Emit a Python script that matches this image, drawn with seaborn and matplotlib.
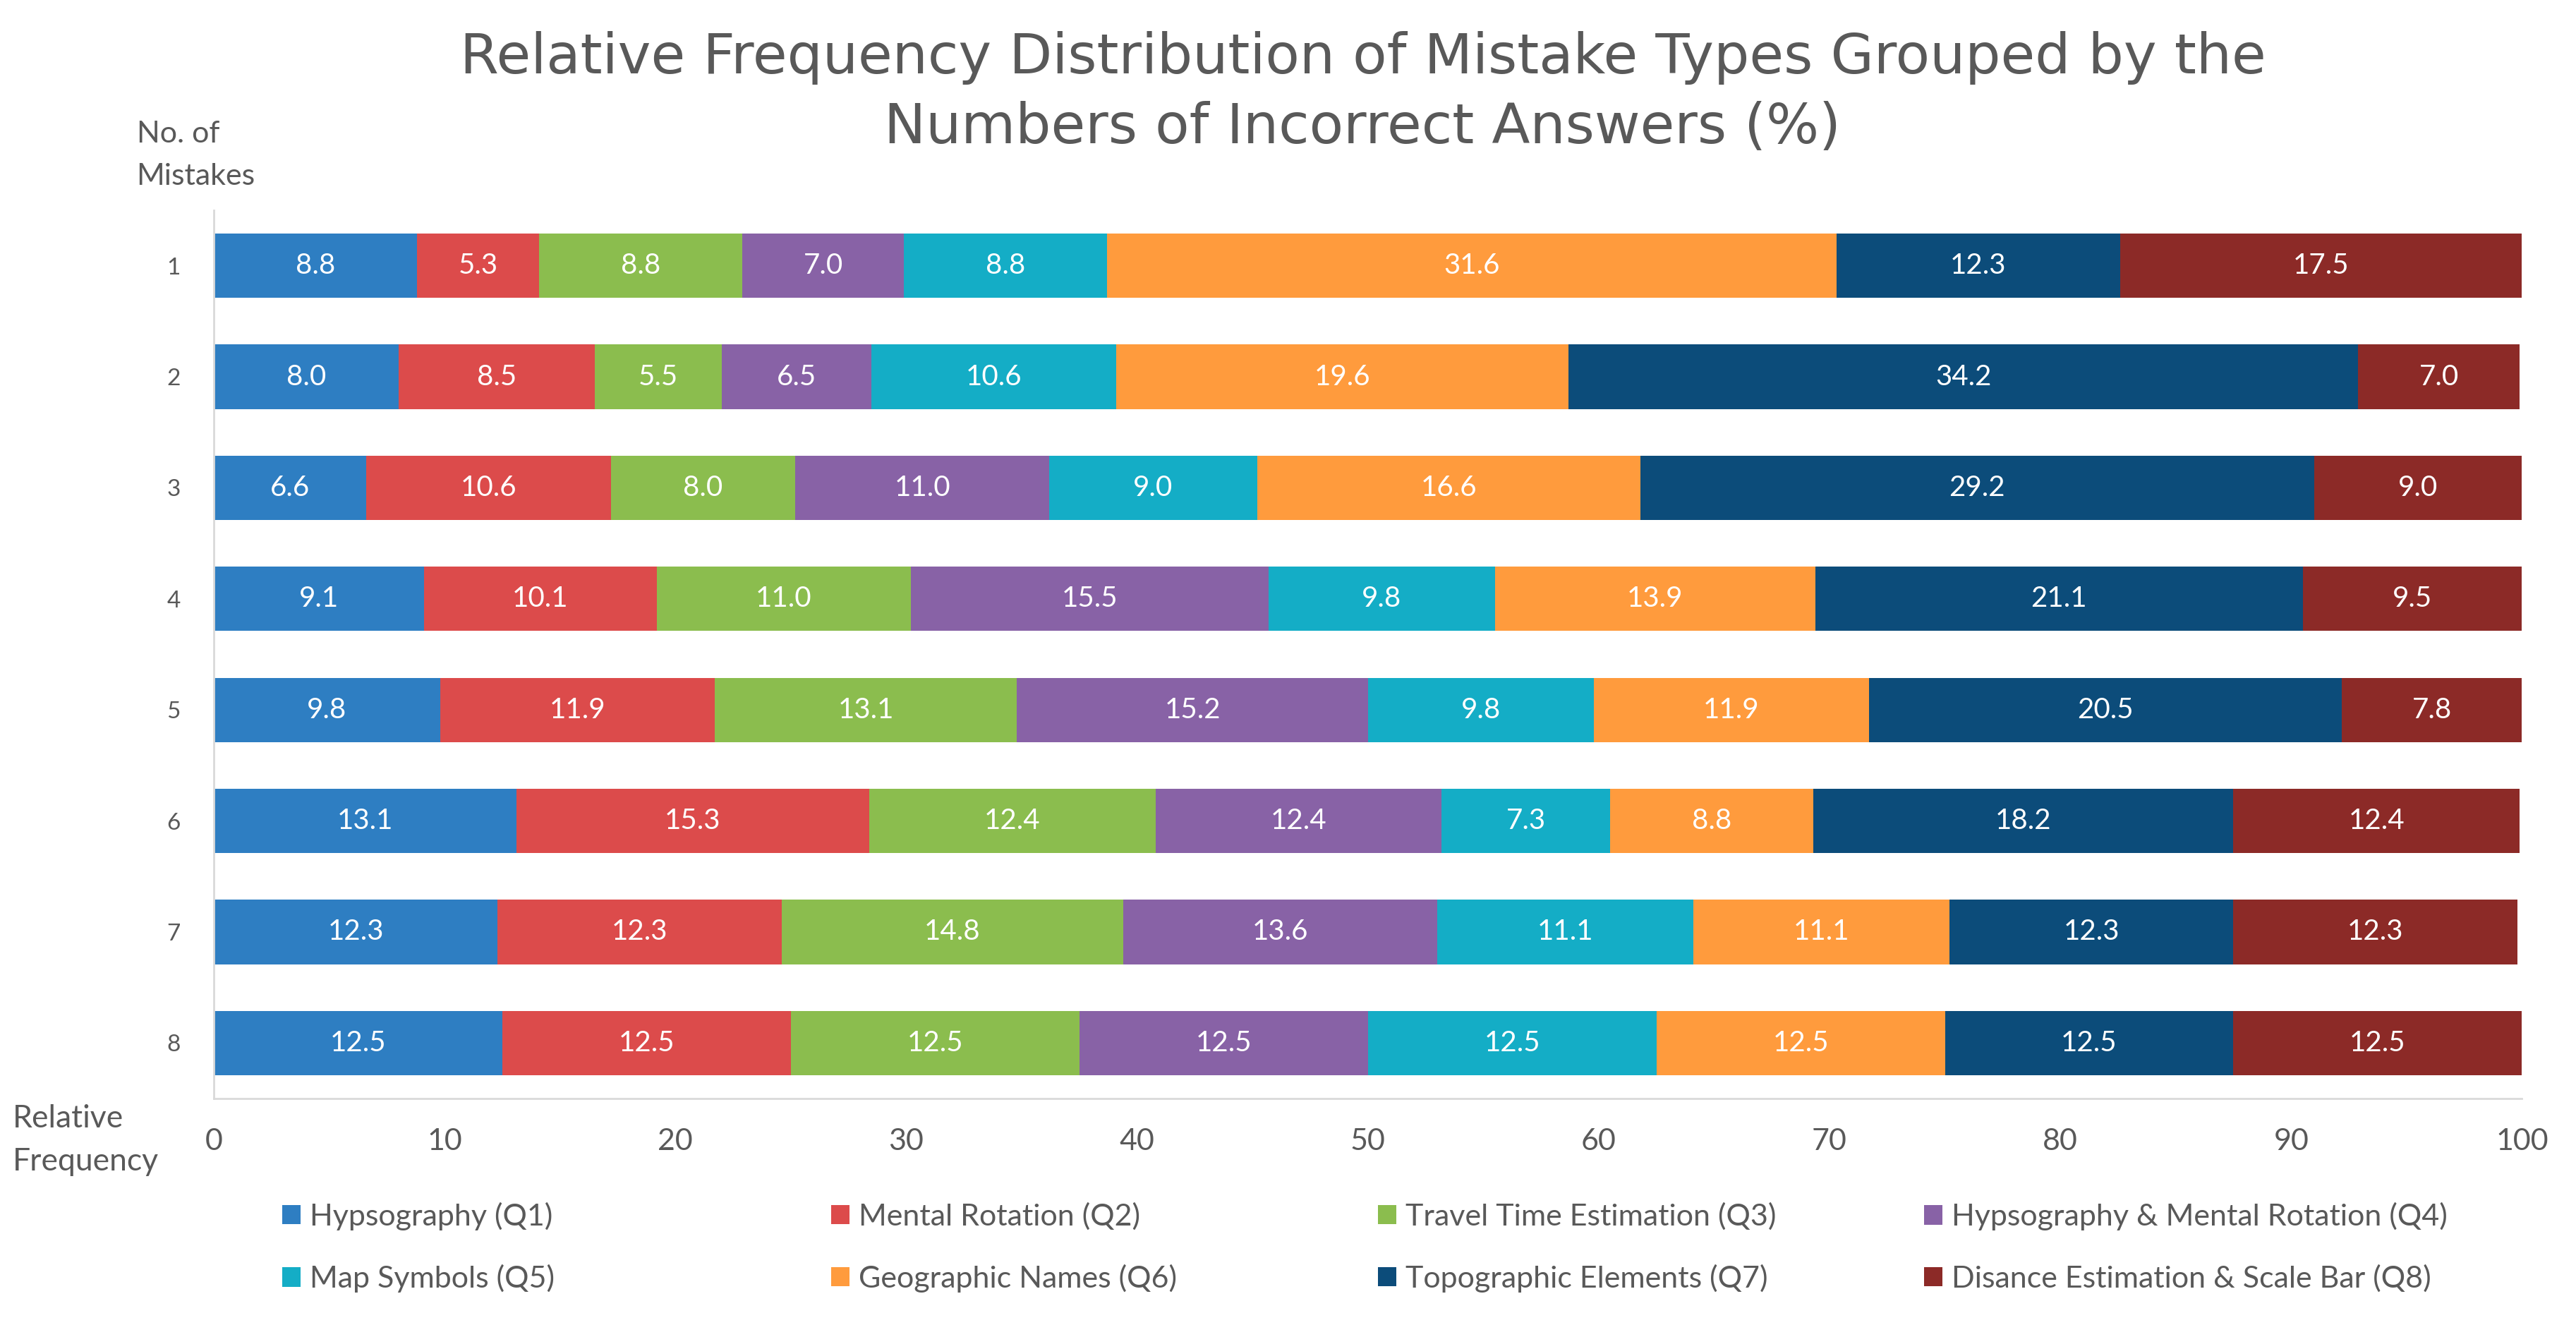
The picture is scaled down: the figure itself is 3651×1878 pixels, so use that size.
import numpy as np
import pandas as pd
import matplotlib
matplotlib.use('Agg')
import matplotlib.pyplot as plt
import seaborn as sns

# data
mistakes = ['1', '2', '3', '4', '5', '6', '7', '8']
categories = ['Hypsography (Q1)', 'Mental Rotation (Q2)', 'Travel Time Estimation (Q3)',
              'Hypsography & Mental Rotation (Q4)', 'Map Symbols (Q5)', 'Geographic Names (Q6)',
              'Topographic Elements (Q7)', 'Disance Estimation & Scale Bar (Q8)']
q1 = [8.8, 8.0, 6.6, 9.1, 9.8, 13.1, 12.3, 12.5]
q2 = [5.3, 8.5, 10.6, 10.1, 11.9, 15.3, 12.3, 12.5]
q3 = [8.8, 5.5, 8.0, 11.0, 13.1, 12.4, 14.8, 12.5]
q4 = [7.0, 6.5, 11.0, 15.5, 15.2, 12.4, 13.6, 12.5]
q5 = [8.8, 10.6, 9.0, 9.8, 9.8, 7.3, 11.1, 12.5]
q6 = [31.6, 19.6, 16.6, 13.9, 11.9, 8.8, 11.1, 12.5]
q7 = [12.3, 34.2, 29.2, 21.1, 20.5, 18.2, 12.3, 12.5]
q8 = [17.5, 7.0, 9.0, 9.5, 7.8, 12.4, 12.3, 12.5]
colors = ['#2E7EC2', '#DC4B4B', '#8BBD4E', '#8862A6', '#14ADC6', '#FF9B3D', '#0C4C7A', '#8C2A27']

df = pd.DataFrame({'mistakes': mistakes})
for name, vals in zip(categories, [q1, q2, q3, q4, q5, q6, q7, q8]):
    df[name] = vals

label_font = 'Lato'
text_grey = '#595959'

fig = plt.figure(figsize=(36.51, 18.78), dpi=100)
ax = fig.add_axes([0.083, 0.1709, 0.896, 0.6704])

left = np.zeros(len(df))
for name, col in zip(categories, colors):
    sns.barplot(data=df, x=name, y='mistakes', orient='h', color=col, width=0.58,
                left=left, label=name, ax=ax, saturation=1, linewidth=0)
    left = left + df[name].values

for cont, name in zip(ax.containers, categories):
    ax.bar_label(cont, labels=[f'{v:.1f}' for v in df[name]], label_type='center',
                 color='white', fontsize=29, family=label_font)

if ax.get_legend() is not None:
    ax.get_legend().remove()

ax.set_xlim(0, 100)
ax.set_xticks(range(0, 101, 10))
ax.set_xlabel('')
ax.set_ylabel('')
ax.tick_params(axis='x', length=0, pad=30, labelsize=31, labelcolor=text_grey)
ax.tick_params(axis='y', length=0, pad=34, labelsize=24, labelcolor=text_grey)
for lab in ax.get_xticklabels() + ax.get_yticklabels():
    lab.set_family(label_font)
for s in ['top', 'right']:
    ax.spines[s].set_visible(False)
for s in ['left', 'bottom']:
    ax.spines[s].set_color('#D9D9D9')
    ax.spines[s].set_linewidth(2)

fig.text(0.529, 0.930, 'Relative Frequency Distribution of Mistake Types Grouped by the\n'
         'Numbers of Incorrect Answers (%)', ha='center', va='center', fontsize=57,
         family='DejaVu Sans', color=text_grey, linespacing=1.38)
fig.text(0.053, 0.883, 'No. of\nMistakes', ha='left', va='center', fontsize=31,
         family=label_font, color=text_grey, linespacing=1.7)
fig.text(0.005, 0.1395, 'Relative\nFrequency', ha='left', va='center', fontsize=32,
         family=label_font, color=text_grey, linespacing=1.6)

# legend: 4 columns x 2 rows, placed like the Excel legend
col_x = [400, 1178, 1953, 2727]
for i, x in enumerate(col_x):
    fig.legend(handles=[ax.containers[i], ax.containers[i + 4]],
               labels=[categories[i], categories[i + 4]],
               loc='center left', bbox_to_anchor=(x / 3651, 1 - 1768 / 1878),
               frameon=False, handlelength=0.6, handleheight=0.6,
               handletextpad=0.3, borderpad=0, borderaxespad=0, labelspacing=1.12,
               labelcolor=text_grey, prop={'family': label_font, 'size': 31})

fig.savefig('out.png', dpi=100, facecolor='white')
